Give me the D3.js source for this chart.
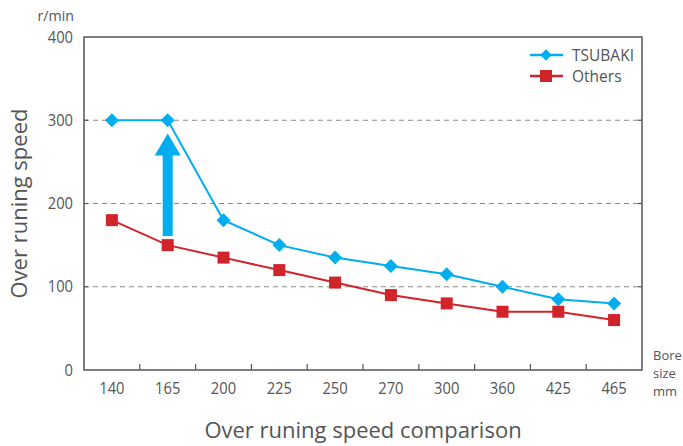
<!DOCTYPE html>
<html><head><meta charset="utf-8">
<script src="https://cdn.jsdelivr.net/npm/d3@7"></script>
<style>body{margin:0;background:#fff}svg{display:block}text{font-family:"Open Sans","Noto Sans",sans-serif;fill:#555}</style>
</head><body><svg id="c" width="683" height="446"></svg>
<script>
const categories = ["140","165","200","225","250","270","300","360","425","465"];
const tsubaki = [300,300,180,150,135,125,115,100,85,80];
const others = [180,150,135,120,105,90,80,70,70,60];
const yTicks = [0,100,200,300,400];
const arrowFrom = 161, arrowTo = 284, arrowCat = "165";

const svg = d3.select("#c");
const L=84,R=642,T=37,B=370;
const x = d3.scaleBand().domain(categories).range([L,R]);
const y = d3.scaleLinear().domain([0,400]).range([B,T]);
const blue="#00AEEF", red="#D1232A", axisC="#555";
function narrow(sel,f){sel.each(function(){const w=this.getComputedTextLength();d3.select(this).attr("textLength",w*f).attr("lengthAdjust","spacingAndGlyphs");});}

svg.append("g").selectAll("line").data([100,200,300]).join("line")
 .attr("x1",L).attr("x2",R).attr("y1",d=>y(d)).attr("y2",d=>y(d))
 .attr("stroke","#888").attr("stroke-width",1).attr("stroke-dasharray","5,4");
svg.append("rect").attr("x",L).attr("y",T).attr("width",R-L).attr("height",B-T)
 .attr("fill","none").attr("stroke",axisC).attr("stroke-width",1.5);
svg.append("g").selectAll("line").data([100,200,300]).join("line")
 .attr("x1",L).attr("x2",L+4).attr("y1",d=>y(d)).attr("y2",d=>y(d)).attr("stroke",axisC).attr("stroke-width",1.2);
svg.append("g").selectAll("line").data([100,200,300]).join("line")
 .attr("x1",R-4).attr("x2",R).attr("y1",d=>y(d)).attr("y2",d=>y(d)).attr("stroke",axisC).attr("stroke-width",1.2);
const bounds = categories.slice(1).map(c=>x(c));
svg.append("g").selectAll("line").data(bounds).join("line")
 .attr("x1",d=>d).attr("x2",d=>d).attr("y1",B).attr("y2",B-6).attr("stroke",axisC).attr("stroke-width",1.2);
svg.append("g").selectAll("text").data(yTicks).join("text")
 .attr("x",L-11).attr("y",d=>y(d)).attr("dy","0.36em").attr("text-anchor","end")
 .attr("font-size",15.5).text(d=>d).call(narrow,0.95);
svg.append("g").selectAll("text").data(categories).join("text")
 .attr("x",d=>x(d)+x.bandwidth()/2).attr("y",B+24).attr("text-anchor","middle")
 .attr("font-size",15.5).text(d=>d).call(narrow,0.95);
svg.append("text").attr("x",74).attr("y",20.5).attr("text-anchor","end").attr("font-size",15).text("r/min").call(narrow,0.95);
["Bore","size","mm"].forEach((t,i)=>svg.append("text").attr("font-size",13).attr("x",653).attr("y",360+i*18).text(t));
svg.append("text").attr("transform",`translate(27,${(T+B)/2}) rotate(-90)`).attr("text-anchor","middle")
 .attr("font-size",22).text("Over runing speed");
svg.append("text").attr("x",363).attr("y",438).attr("text-anchor","middle").attr("font-size",22).text("Over runing speed comparison");

const ax = x(arrowCat)+x.bandwidth()/2;
const yb=y(arrowFrom), yt=y(arrowTo);
const sw=5, hw=13, hh=22;
svg.append("path").attr("fill",blue)
 .attr("d",`M${ax-sw},${yb}L${ax-sw},${yt+hh}L${ax-hw},${yt+hh}L${ax},${yt}L${ax+hw},${yt+hh}L${ax+sw},${yt+hh}L${ax+sw},${yb}Z`);

const cx = d=>x(d)+x.bandwidth()/2;
const line = d3.line().x((d,i)=>cx(categories[i])).y(d=>y(d));
svg.append("path").attr("d",line(others)).attr("fill","none").attr("stroke",red).attr("stroke-width",2);
svg.append("path").attr("d",line(tsubaki)).attr("fill","none").attr("stroke",blue).attr("stroke-width",2);
const diamond = d3.symbol().type(d3.symbolSquare).size(98);
svg.append("g").selectAll("rect").data(others).join("rect")
 .attr("x",(d,i)=>cx(categories[i])-6).attr("y",d=>y(d)-6).attr("width",12).attr("height",12).attr("fill",red);
svg.append("g").selectAll("path").data(tsubaki).join("path")
 .attr("d",diamond).attr("transform",(d,i)=>`translate(${cx(categories[i])},${y(d)}) rotate(45)`).attr("fill",blue);

const leg=[{n:"TSUBAKI",c:blue,t:"d"},{n:"Others",c:red,t:"s"}];
leg.forEach((l,i)=>{
  const ly=55+i*21;
  svg.append("line").attr("x1",530).attr("x2",563).attr("y1",ly).attr("y2",ly).attr("stroke",l.c).attr("stroke-width",2.5);
  if(l.t==="d") svg.append("path").attr("d",d3.symbol().type(d3.symbolSquare).size(64)).attr("transform",`translate(546,${ly}) rotate(45)`).attr("fill",l.c);
  else svg.append("rect").attr("x",540).attr("y",ly-6).attr("width",12).attr("height",12).attr("fill",l.c);
  svg.append("text").attr("x",572).attr("y",ly).attr("dy","0.36em").attr("font-size",15.5).text(l.n);
});
</script></body></html>
